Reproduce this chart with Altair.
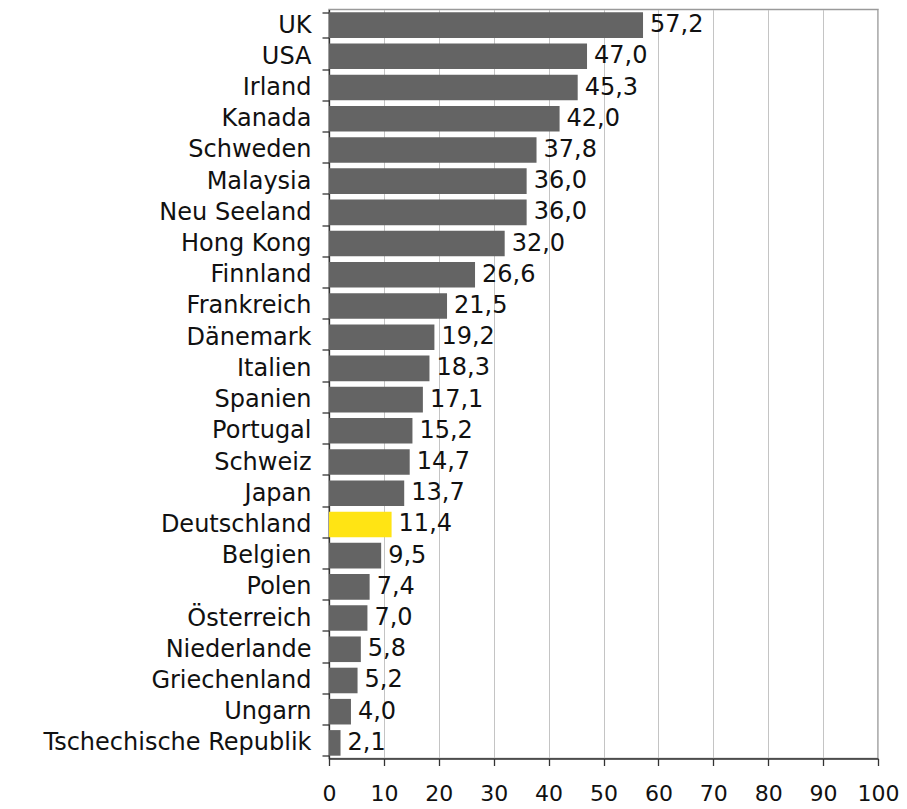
import altair as alt
import pandas as pd

countries = ["UK", "USA", "Irland", "Kanada", "Schweden", "Malaysia", "Neu Seeland",
             "Hong Kong", "Finnland", "Frankreich", "Dänemark", "Italien", "Spanien",
             "Portugal", "Schweiz", "Japan", "Deutschland", "Belgien", "Polen",
             "Österreich", "Niederlande", "Griechenland", "Ungarn", "Tschechische Republik"]
values = [57.2, 47.0, 45.3, 42.0, 37.8, 36.0, 36.0, 32.0, 26.6, 21.5, 19.2, 18.3, 17.1,
          15.2, 14.7, 13.7, 11.4, 9.5, 7.4, 7.0, 5.8, 5.2, 4.0, 2.1]
highlight = "Deutschland"
x_ticks = list(range(0, 101, 10))

df = pd.DataFrame({"land": countries, "wert": values})
df["label"] = [f"{v:.1f}".replace(".", ",") for v in values]
df["farbe"] = ["hl" if c == highlight else "base" for c in countries]

FONT = "DejaVu Sans"
FS = 24

y_enc = alt.Y("land:N", sort=countries, title=None,
              scale=alt.Scale(paddingInner=0.18, paddingOuter=0.09),
              axis=alt.Axis(tickBand="extent", tickSize=7, tickColor="#333333",
                            domainColor="#333333", domainWidth=1.3, tickWidth=1.3,
                            labelFontSize=FS, labelFont=FONT, labelColor="#111111",
                            labelPadding=11, labelLimit=400))
x_enc = alt.X("wert:Q", title=None,
              scale=alt.Scale(domain=[0, 100], nice=False),
              axis=alt.Axis(values=x_ticks, grid=True, gridColor="#c4c4c4", gridWidth=1,
                            tickSize=7, tickColor="#333333", tickWidth=1.3,
                            domainColor="#333333", domainWidth=1.3,
                            labelFontSize=22, labelFont=FONT, labelColor="#111111",
                            labelPadding=18, labelFlush=False))

bars = alt.Chart(df).mark_bar().encode(
    y=y_enc, x=x_enc,
    color=alt.Color("farbe:N", scale=alt.Scale(domain=["base", "hl"],
                                               range=["#646464", "#FFE414"]), legend=None),
)
text = alt.Chart(df).mark_text(align="left", baseline="middle", dx=7, fontSize=FS,
                               font=FONT, color="#111111").encode(
    y=alt.Y("land:N", sort=countries), x="wert:Q", text="label:N")

chart = alt.layer(bars, text).properties(
    width=549, height=749,
    autosize=alt.AutoSizeParams(type="none"),
    padding={"left": 321, "top": 1.5, "right": 21, "bottom": 50},
).configure_view(stroke="#9a9a9a", strokeWidth=1.5)

chart.save("out.html", embed_options={"renderer": "svg", "actions": False})
